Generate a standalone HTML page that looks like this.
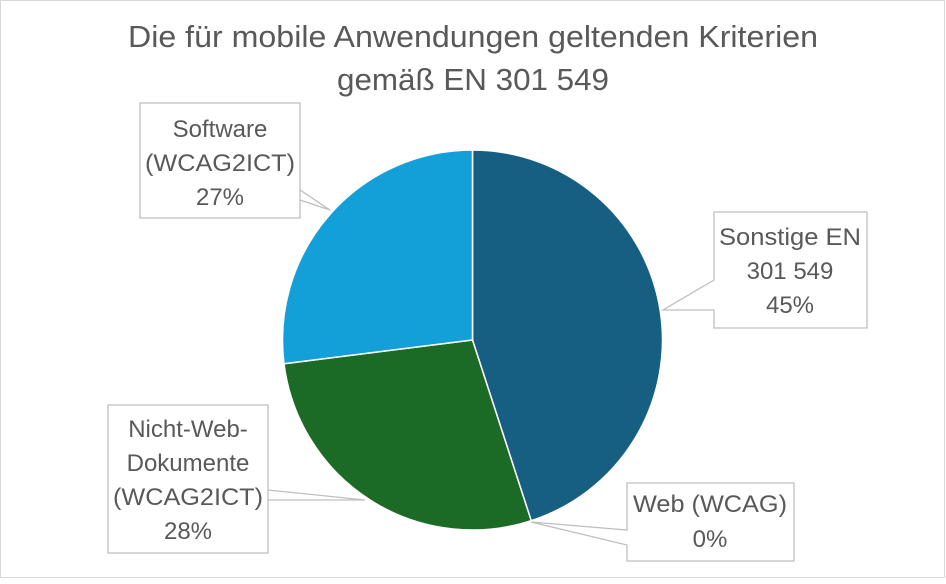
<!DOCTYPE html>
<html><head><meta charset="utf-8"><style>
body{margin:0;background:#fff}
svg text{font-family:"Liberation Sans",sans-serif;fill:#595959}
</style></head><body>
<svg width="946" height="579" viewBox="0 0 946 579">
<rect x="0.5" y="0.5" width="944" height="577" fill="#fff" stroke="#d9d9d9"/>
<text x="473" y="47" font-size="31" text-anchor="middle" textLength="690" lengthAdjust="spacingAndGlyphs">Die für mobile Anwendungen geltenden Kriterien</text>
<text x="473" y="90" font-size="31" text-anchor="middle" textLength="272" lengthAdjust="spacingAndGlyphs">gemäß EN 301 549</text>
<g stroke="#fff" stroke-width="1.5">
<path d="M472.5,340 L472.5,150 A190,190 0 0 1 531.2,520.7 Z" fill="#175f82"/>
<path d="M472.5,340 L531.2,520.7 A190,190 0 0 1 284,363.8 Z" fill="#1b6a25"/>
<path d="M472.5,340 L284,363.8 A190,190 0 0 1 472.5,150 Z" fill="#13a0d8"/>
</g>
<g fill="#fff" stroke="#bfbfbf" stroke-width="1.3">
<path d="M714,212 H867 V328 H714 V310 L663,310 L714,280 Z"/>
<path d="M627,483 H794 V561 H627 V545 L531,522 L627,530 Z"/>
<path d="M140,103 H300 V218 H300 V190 L330,210 L300,200 V218 H140 Z"/>
<path d="M108,405 H268 V553 H108 Z"/>
<path d="M268,490 L365,500 L268,500" fill="none"/>
</g>
<g font-size="24" text-anchor="middle">
<text x="790" y="245" textLength="142" lengthAdjust="spacingAndGlyphs">Sonstige EN</text><text x="790" y="279">301 549</text><text x="790" y="313">45%</text>
<text x="710" y="512" textLength="154" lengthAdjust="spacingAndGlyphs">Web (WCAG)</text><text x="710" y="547">0%</text>
<text x="220" y="137">Software</text><text x="220" y="171" textLength="150" lengthAdjust="spacingAndGlyphs">(WCAG2ICT)</text><text x="220" y="205">27%</text>
<text x="188" y="437">Nicht-Web-</text><text x="188" y="471">Dokumente</text><text x="188" y="505" textLength="150" lengthAdjust="spacingAndGlyphs">(WCAG2ICT)</text><text x="188" y="539">28%</text>
</g>
</svg>
</body></html>
